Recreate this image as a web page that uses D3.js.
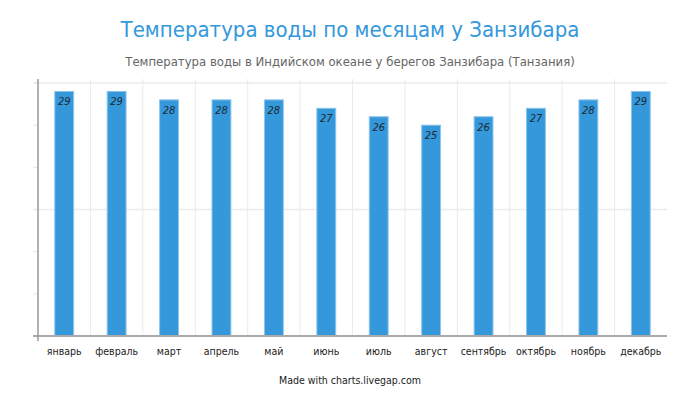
<!DOCTYPE html>
<html>
<head>
<meta charset="utf-8">
<script src="https://cdn.jsdelivr.net/npm/d3@7"></script>
<style>
  body { margin: 0; background: #fff; }
  text { font-family: "DejaVu Sans", sans-serif; font-stretch: condensed; }
</style>
</head>
<body>
<svg id="chart" width="700" height="400"></svg>
<script>
var months = ["январь", "февраль", "март", "апрель", "май", "июнь", "июль", "август", "сентябрь", "октябрь", "ноябрь", "декабрь"];
var waterTemp = [29, 29, 28, 28, 28, 27, 26, 25, 26, 27, 28, 29];
var yTicks = [0, 5, 10, 15, 20, 25, 30];
var yGrid = [0, 15, 30];

var svg = d3.select("#chart");
var plotLeft = 38, plotRight = 667, plotTop = 83, plotBottom = 336;

var x = d3.scaleBand().domain(months).range([plotLeft, plotRight]);
var y = d3.scaleLinear().domain([0, 30]).range([plotBottom, plotTop]);

// title
svg.append("text")
    .attr("x", 350).attr("y", 37)
    .attr("text-anchor", "middle")
    .attr("fill", "#3498db")
    .style("font-size", "22px")
    .text("Температура воды по месяцам у Занзибара");
svg.append("text")
    .attr("x", 350).attr("y", 66)
    .attr("text-anchor", "middle")
    .attr("fill", "#666")
    .style("font-size", "13px")
    .text("Температура воды в Индийском океане у берегов Занзибара (Танзания)");

// vertical grid between categories
svg.append("g").selectAll("line").data(months.slice(1)).enter()
    .append("line")
    .attr("x1", function (d) { return x(d); })
    .attr("x2", function (d) { return x(d); })
    .attr("y1", plotTop - 4).attr("y2", plotBottom)
    .attr("stroke", "#ebebeb").attr("stroke-width", 1);

// horizontal grid
svg.append("g").selectAll("line").data(yGrid.slice(1)).enter()
    .append("line")
    .attr("x1", plotLeft - 4).attr("x2", plotRight)
    .attr("y1", function (d) { return y(d); })
    .attr("y2", function (d) { return y(d); })
    .attr("stroke", "#ebebeb").attr("stroke-width", 1.5);

// y ticks (no labels)
svg.append("g").selectAll("line").data(yTicks).enter()
    .append("line")
    .attr("x1", plotLeft - 5).attr("x2", plotLeft)
    .attr("y1", function (d) { return y(d); })
    .attr("y2", function (d) { return y(d); })
    .attr("stroke", "#e6e6e6").attr("stroke-width", 1);

// bars
var bw = x.bandwidth() * 0.36;
svg.append("g").selectAll("rect").data(waterTemp).enter()
    .append("rect")
    .attr("x", function (d, i) { return x(months[i]) + x.bandwidth() / 2 - bw / 2; })
    .attr("y", function (d) { return y(d); })
    .attr("width", bw)
    .attr("height", function (d) { return y(0) - y(d); })
    .attr("fill", "#3498db")
    .attr("stroke", "#8ec5ec")
    .attr("stroke-width", 1);

// value labels
svg.append("g").selectAll("text").data(waterTemp).enter()
    .append("text")
    .attr("x", function (d, i) { return x(months[i]) + x.bandwidth() / 2; })
    .attr("y", function (d) { return y(d) + 14; })
    .attr("text-anchor", "middle")
    .attr("fill", "#1e2a33")
    .style("font-size", "11px")
    .style("font-style", "italic")
    .text(function (d) { return d; });

// axes lines
svg.append("line")
    .attr("x1", plotLeft - 5).attr("x2", plotRight)
    .attr("y1", plotBottom).attr("y2", plotBottom)
    .attr("stroke", "#aaa").attr("stroke-width", 2);
svg.append("line")
    .attr("x1", plotLeft).attr("x2", plotLeft)
    .attr("y1", plotTop - 4).attr("y2", plotBottom + 5)
    .attr("stroke", "#999").attr("stroke-width", 1.5);

// category labels
svg.append("g").selectAll("text").data(months).enter()
    .append("text")
    .attr("x", function (d) { return x(d) + x.bandwidth() / 2; })
    .attr("y", 355)
    .attr("text-anchor", "middle")
    .attr("fill", "#222")
    .style("font-size", "10.5px")
    .text(function (d) { return d; });

svg.append("text")
    .attr("x", 350).attr("y", 384)
    .attr("text-anchor", "middle")
    .attr("fill", "#222")
    .style("font-size", "10.5px")
    .text("Made with charts.livegap.com");
</script>
</body>
</html>
